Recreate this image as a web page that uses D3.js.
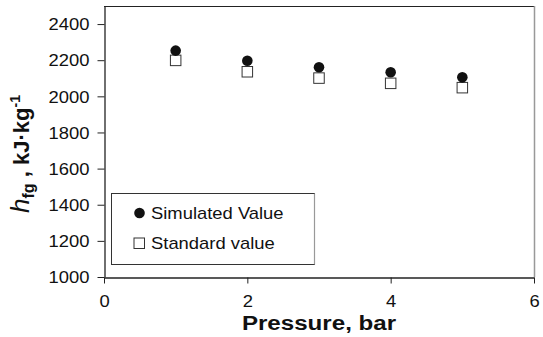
<!DOCTYPE html>
<html><head><meta charset="utf-8">
<script src="https://cdn.jsdelivr.net/npm/d3@7"></script>
<style>body{margin:0;background:#fff}svg{display:block;font-family:"Liberation Sans",Arial,sans-serif}</style>
</head><body>
<svg id="c" width="543" height="337"></svg>
<script>
const pressures = [1, 2, 3, 4, 5];
const simulated = [2253, 2197, 2161, 2133, 2105];
const standard = [2199, 2136, 2101, 2072, 2048];
const xTicks = [0, 2, 4, 6];
const yTicks = [1000, 1200, 1400, 1600, 1800, 2000, 2200, 2400];
const legendLabels = ["Simulated Value", "Standard value"];

const svg = d3.select("#c");
const L = 104, R = 534, T = 6, B = 277;
const x = d3.scaleLinear().domain([0, 6]).range([L, R]);
const y = d3.scaleLinear().domain([1000, 2500]).range([B, T]);
const SX = 1.15;

// plot frame
svg.append("line").attr("x1", L).attr("x2", R).attr("y1", T + 0.5).attr("y2", T + 0.5).attr("stroke", "#222").attr("stroke-width", 1);
svg.append("line").attr("x1", R + 0.5).attr("x2", R + 0.5).attr("y1", T).attr("y2", B).attr("stroke", "#999").attr("stroke-width", 1.5);

const xa = svg.append("g").attr("transform", `translate(0,${B + 0.5})`)
  .call(d3.axisBottom(x).tickValues(xTicks).tickFormat(d3.format("d")).tickSize(6).tickSizeOuter(0).tickPadding(12));
const ya = svg.append("g").attr("transform", `translate(${L + 0.5},0)`)
  .call(d3.axisLeft(y).tickValues(yTicks).tickFormat(d3.format("d")).tickSize(7).tickSizeOuter(0).tickPadding(8));
[xa, ya].forEach(a => {
  a.select(".domain").attr("stroke", "#222").attr("stroke-width", 1.3);
  a.selectAll(".tick line").attr("stroke", "#222");
  a.attr("font-size", 16).attr("font-family", '"Liberation Sans",Arial,sans-serif');
  a.selectAll(".tick text").attr("fill", "#111").attr("transform", `scale(${SX},1)`);
});
ya.selectAll(".tick text").attr("x", -15 / SX).attr("dy", "0.36em");
xa.selectAll(".tick text").attr("dy", "0.71em");

// standard (squares)
svg.append("g").selectAll("rect").data(pressures).join("rect")
  .attr("x", (d) => x(d) - 5.25).attr("y", (d, i) => y(standard[i]) - 5.25)
  .attr("width", 10.5).attr("height", 10.5)
  .attr("fill", "#fff").attr("stroke", "#333").attr("stroke-width", 1);
// simulated (circles)
svg.append("g").selectAll("circle").data(pressures).join("circle")
  .attr("cx", (d) => x(d)).attr("cy", (d, i) => y(simulated[i])).attr("r", 5.3)
  .attr("fill", "#111");

// legend
const lg = svg.append("g");
lg.append("rect").attr("x", 111.5).attr("y", 193.5).attr("width", 203).attr("height", 71)
  .attr("fill", "#fff").attr("stroke", "#333").attr("stroke-width", 1);
lg.append("line").attr("x1", 314.5).attr("x2", 314.5).attr("y1", 193.5).attr("y2", 264.5).attr("stroke", "#999").attr("stroke-width", 1.2);
lg.append("circle").attr("cx", 139.5).attr("cy", 213).attr("r", 5.3).attr("fill", "#111");
lg.append("rect").attr("x", 134).attr("y", 238).attr("width", 10.5).attr("height", 10.5).attr("fill", "#fff").attr("stroke", "#333");
lg.append("text").attr("transform", `translate(151,219) scale(${SX},1)`).attr("font-size", 16).attr("fill", "#111").text(legendLabels[0]);
lg.append("text").attr("transform", `translate(151,249) scale(${SX},1)`).attr("font-size", 16).attr("fill", "#111").text(legendLabels[1]);

// axis titles
svg.append("text").attr("transform", `translate(319,330) scale(${SX},1)`).attr("text-anchor", "middle")
  .attr("font-size", 21).attr("font-weight", "bold").attr("fill", "#111").text("Pressure, bar");
const yt = svg.append("text").attr("transform", "translate(29,154) rotate(-90)").attr("text-anchor", "middle")
  .attr("font-weight", "bold").attr("fill", "#111").attr("font-size", 22);
yt.append("tspan").attr("font-style", "italic").attr("font-weight", "normal").attr("font-size", 26).text("h");
yt.append("tspan").attr("font-size", 16).attr("dy", 5).text("fg");
yt.append("tspan").attr("dy", -5).text(" , kJ·kg");
yt.append("tspan").attr("font-size", 14).attr("dy", -9).text("-1");
</script>
</body></html>
